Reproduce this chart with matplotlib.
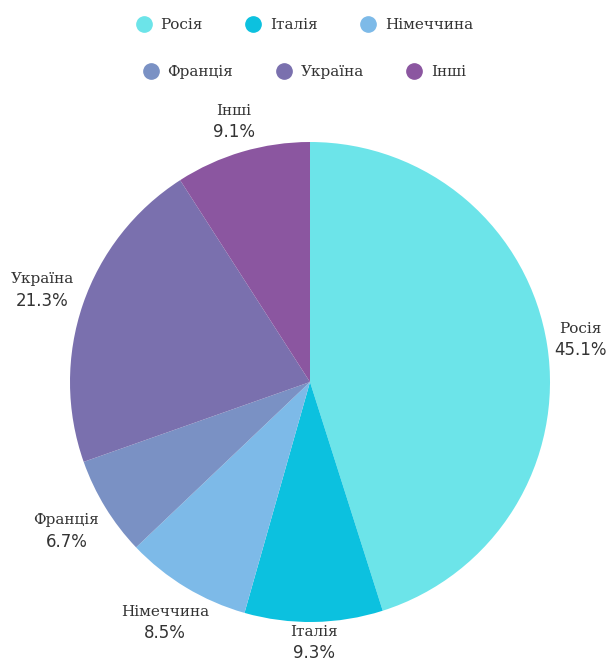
import numpy as np
import matplotlib.pyplot as plt
from matplotlib.lines import Line2D

# Дані
labels = ['Росія', 'Італія', 'Німеччина', 'Франція', 'Україна', 'Інші']
values = [45.1, 9.3, 8.5, 6.7, 21.3, 9.1]
colors = ['#6ce4e9', '#0cc1df', '#7dbae8', '#7a91c4', '#7a70ae', '#8b56a0']
# відстань підписів від центру (у радіусах)
label_dist = [1.14, 1.085, 1.17, 1.19, 1.18, 1.13]

fig = plt.figure(figsize=(6.09, 6.64), dpi=100)
ax = fig.add_axes([70 / 609, 42 / 664, 480 / 609, 480 / 664])

wedges, _ = ax.pie(values, colors=colors, startangle=90, counterclock=False,
                   radius=1.0, wedgeprops=dict(linewidth=0))
ax.set_xlim(-1, 1)
ax.set_ylim(-1, 1)
ax.set_aspect('equal')
ax.axis('off')

# Підписи навколо секторів
for w, lab, val, d in zip(wedges, labels, values, label_dist):
    ang = np.deg2rad((w.theta1 + w.theta2) / 2)
    x, y = d * np.cos(ang), d * np.sin(ang)
    ax.text(x, y + 0.045, lab, ha='center', va='center', fontsize=11,
            family='DejaVu Serif', color='#333333', clip_on=False)
    ax.text(x, y - 0.043, f'{val}%', ha='center', va='center', fontsize=12,
            family='DejaVu Sans', color='#333333', clip_on=False)

# Легенда у два рядки
handles = [Line2D([], [], marker='o', linestyle='', markersize=11,
                  markerfacecolor=c, markeredgecolor=c) for c in colors]
for row, ytop in enumerate([1 - 25 / 664, 1 - 72 / 664]):
    sl = slice(3 * row, 3 * row + 3)
    leg = fig.legend(handles[sl], labels[sl], loc='center', bbox_to_anchor=(0.5, ytop),
                     ncol=3, frameon=False, columnspacing=2.8, handlelength=1.0,
                     handletextpad=0.6, prop=dict(family='DejaVu Serif', size=11))
    for t in leg.get_texts():
        t.set_color('#333333')

fig.savefig('out.png', dpi=100)
